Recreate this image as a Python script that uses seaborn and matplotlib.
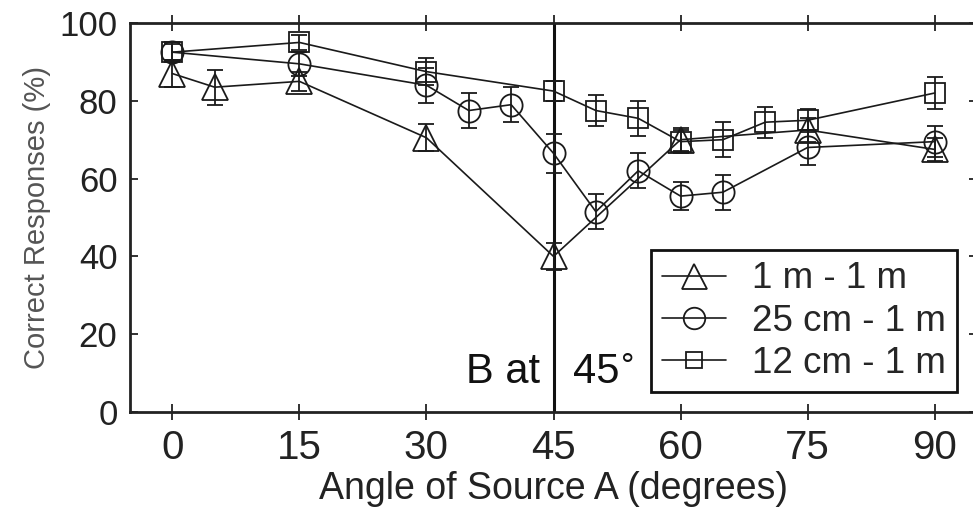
import numpy as np
import pandas as pd
import matplotlib
matplotlib.use("Agg")
import matplotlib.pyplot as plt
import seaborn as sns
from matplotlib.lines import Line2D

# ---- data ----
series_names = ["1 m - 1 m", "25 cm - 1 m", "12 cm - 1 m"]

x_tri = [0, 5, 15, 30, 45, 60, 75, 90]
y_tri = [87, 83.5, 85, 70.5, 40, 70, 72.5, 67.5]
e_tri = [3.5, 4.5, 2.5, 3.5, 3.5, 3, 3, 3]

x_cir = [0, 15, 30, 35, 40, 45, 50, 55, 60, 65, 75, 90]
y_cir = [92.5, 89.5, 84, 77.5, 79, 66.5, 51.5, 62, 55.5, 56.5, 68, 69.5]
e_cir = [2.5, 3, 4.5, 4.5, 4.5, 5, 4.5, 4.5, 3.5, 4.5, 4.5, 4]

x_sq = [0, 15, 30, 45, 50, 55, 60, 65, 70, 75, 90]
y_sq = [92.5, 95, 87.5, 82.5, 77.5, 75.5, 69.5, 70, 74.5, 75, 82]
e_sq = [2, 2, 3.5, 2.5, 4, 4.5, 3, 4.5, 4, 3, 4]

x_ticks = [0, 15, 30, 45, 60, 75, 90]
y_ticks = [0, 20, 40, 60, 80, 100]

frames = []
for name, xs, ys, es in zip(series_names, [x_tri, x_cir, x_sq],
                            [y_tri, y_cir, y_sq], [e_tri, e_cir, e_sq]):
    frames.append(pd.DataFrame({"angle": xs, "resp": ys, "err": es, "cond": name}))
df = pd.concat(frames, ignore_index=True)

sns.set_style("ticks")
plt.rcParams["font.family"] = ["Liberation Sans", "DejaVu Sans"]

fig = plt.figure(figsize=(9.73, 5.13), dpi=100)
ax = fig.add_axes([130 / 973, 101 / 513, 847 / 973, 389 / 513])

markers = {"1 m - 1 m": "^", "25 cm - 1 m": "o", "12 cm - 1 m": "s"}
msizes = {"1 m - 1 m": 19, "25 cm - 1 m": 16, "12 cm - 1 m": 14}
leg_msizes = {"1 m - 1 m": 18, "25 cm - 1 m": 15.5, "12 cm - 1 m": 12}

# error bars
for name in series_names:
    d = df[df["cond"] == name]
    ax.errorbar(d["angle"], d["resp"], yerr=d["err"], fmt="none",
                ecolor="#1a1a1a", elinewidth=1.3, capsize=6, capthick=1.3, zorder=2)

sns.lineplot(data=df, x="angle", y="resp", hue="cond", style="cond",
             hue_order=series_names, style_order=series_names,
             palette=["#1a1a1a"] * 3, markers=markers, dashes=False,
             estimator=None, sort=True, lw=1.2, ax=ax, legend=False, zorder=3)

for line, name in zip(ax.lines[-3:], series_names):
    line.set_markersize(msizes[name])
    line.set_markerfacecolor("none")
    line.set_markeredgecolor("#1a1a1a")
    line.set_markeredgewidth(1.3)

ax.axvline(45, color="#111111", lw=2.2, zorder=1)

ax.set_xlim(-5, 95)
ax.set_ylim(0, 100)
ax.set_xticks(x_ticks)
ax.set_yticks(y_ticks)
ax.tick_params(axis="x", direction="inout", length=12, width=1.3,
               top=True, labelsize=29, pad=6, colors="#222222")
ax.tick_params(axis="y", direction="in", length=6, width=1.3,
               right=True, labelsize=25, pad=9, colors="#222222")
for s in ax.spines.values():
    s.set_linewidth(2)
    s.set_color("#222222")

ax.set_xlabel("Angle of Source A (degrees)", fontsize=27, color="#222222", labelpad=3)
ax.set_ylabel("Correct Responses (%)", fontsize=21, color="#555555", labelpad=6)

ax.text(43.4, 7.45, "B at", fontsize=30, ha="right", va="baseline", color="#111111")
ax.text(47.3, 7.45, "45", fontsize=30, ha="left", va="baseline", color="#111111")
ax.text(53.0, 9.2, "°", fontsize=24, ha="left", va="baseline", color="#111111")

handles = [Line2D([], [], color="#1a1a1a", lw=1.2, marker=markers[n],
                  markersize=leg_msizes[n], markerfacecolor="none",
                  markeredgewidth=1.3) for n in series_names]
leg = ax.legend(handles, series_names, loc="lower right",
                bbox_to_anchor=(0.976, 0.051), borderaxespad=0,
                fontsize=26.5, frameon=True, fancybox=False, framealpha=1,
                edgecolor="#111111", handlelength=1.75, handletextpad=0.7,
                labelspacing=0.2, borderpad=0.3)
leg.get_frame().set_linewidth(2)

fig.savefig("out.png", dpi=100, facecolor="white")
